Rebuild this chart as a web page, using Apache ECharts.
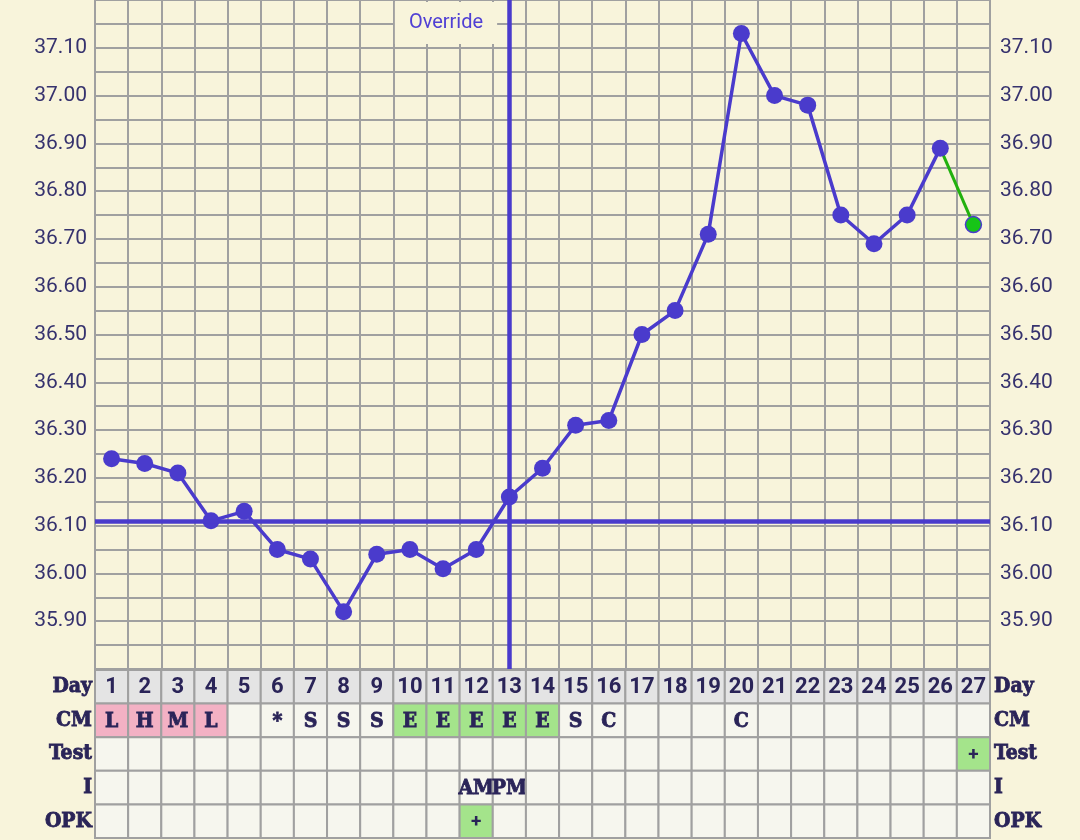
<!DOCTYPE html>
<html>
<head>
<meta charset="utf-8">
<script src="https://cdn.jsdelivr.net/npm/echarts@6/dist/echarts.min.js"></script>
<style>
html,body{margin:0;padding:0;background:#f8f4db;}
#chart{width:1080px;height:840px;}
</style>
</head>
<body>
<div id="chart"></div>
<script>
// ---- data ----
const days = ['1','2','3','4','5','6','7','8','9','10','11','12','13','14','15','16','17','18','19','20','21','22','23','24','25','26','27'];
const temps = [36.24,36.23,36.21,36.11,36.13,36.05,36.03,35.92,36.04,36.05,36.01,36.05,36.16,36.22,36.31,36.32,36.50,36.55,36.71,37.13,37.00,36.98,36.75,36.69,36.75,36.89,36.73];
const coverline = 36.11;
const overrideDay = '13';
const overrideLabel = 'Override';
const rowNames = ['Day','CM','Test','I','OPK'];
const cmValues = ['L','H','M','L','','*','S','S','S','E','E','E','E','E','S','C','','','','C','','','','','','',''];
const testValues = ['','','','','','','','','','','','','','','','','','','','','','','','','','','+'];
const intercourseValues = ['','','','','','','','','','','','AM','PM','','','','','','','','','','','','','',''];
const opkValues = ['','','','','','','','','','','','+','','','','','','','','','','','','','','',''];
const yTickLabels = ['35.90','36.00','36.10','36.20','36.30','36.40','36.50','36.60','36.70','36.80','36.90','37.00','37.10'];

// ---- styling ----
const BG = '#f8f4db';
const PURPLE = '#4a3bcc';
const GREEN_LINE = '#22b10e';
const TEXT = '#2a2458';
const AXTEXT = '#36326e';
const GRIDC = '#a0a0a0';
const PINK = '#f3b1c4';
const GREEN = '#a4e48b';
const DAYBG = '#e4e4e4';
const CELLBG = '#f6f6ee';
const SLAB = '"DejaVu Serif Condensed", "DejaVu Serif", serif';
const pinkSet = {L:1,H:1,M:1};

const rows = [days, cmValues, testValues, intercourseValues, opkValues];
const cells = [];
rows.forEach((vals, r) => {
  vals.forEach((t, c) => {
    let fill = r === 0 ? DAYBG : CELLBG;
    if (r === 1 && pinkSet[t]) fill = PINK;
    if (r === 1 && t === 'E') fill = GREEN;
    if ((r === 2 || r === 4) && t === '+') fill = GREEN;
    const slab = !(r === 0 || t === '+');
    const font = r === 0 ? 'bold 22px Roboto' : (t === '+' ? 'bold 19px Roboto' : 'bold 21px ' + SLAB);
    cells.push({value: [c, r], text: t, fill: fill, font: font, heavy: slab});
  });
});

const chart = echarts.init(document.getElementById('chart'), null, {renderer: 'canvas'});

function yLabel(v) {
  const s = v.toFixed(2);
  return yTickLabels.indexOf(s) >= 0 ? s : '';
}

const slabLabel = {color: TEXT, fontSize: 21, fontWeight: 'bold', fontFamily: SLAB,
                   textBorderColor: TEXT, textBorderWidth: 0.8};

const option = {
  animation: false,
  backgroundColor: BG,
  grid: [
    {left: 95, right: 90, top: -3, height: 672, containLabel: false},
    {left: 95, right: 90, top: 670, height: 168, containLabel: false}
  ],
  xAxis: [
    {type: 'category', gridIndex: 0, data: days, boundaryGap: true,
     axisLabel: {show: false}, axisTick: {show: false},
     axisLine: {show: true, lineStyle: {color: GRIDC, width: 2}},
     splitLine: {show: true, interval: 0, lineStyle: {color: GRIDC, width: 2}}},
    {type: 'category', gridIndex: 1, data: days, boundaryGap: true, show: false}
  ],
  yAxis: [
    {type: 'value', gridIndex: 0, min: 35.8, max: 37.2, interval: 0.05, position: 'left',
     axisLine: {show: false}, axisTick: {show: false},
     axisLabel: {formatter: yLabel, color: AXTEXT, fontSize: 21, fontFamily: 'Roboto', margin: 8},
     splitLine: {show: true, lineStyle: {color: GRIDC, width: 2}}},
    {type: 'value', gridIndex: 0, min: 35.8, max: 37.2, interval: 0.05, position: 'right',
     axisLine: {show: true, lineStyle: {color: GRIDC, width: 2}}, axisTick: {show: false},
     axisLabel: {formatter: yLabel, color: AXTEXT, fontSize: 21, fontFamily: 'Roboto', margin: 10},
     splitLine: {show: false}},
    {type: 'category', gridIndex: 1, data: rowNames, inverse: true, position: 'left',
     axisLine: {show: false}, axisTick: {show: false},
     axisLabel: Object.assign({margin: 3}, slabLabel)},
    {type: 'category', gridIndex: 1, data: rowNames, inverse: true, position: 'right',
     axisLine: {show: false}, axisTick: {show: false},
     axisLabel: Object.assign({margin: 4}, slabLabel)}
  ],
  series: [
    {
      type: 'line', xAxisIndex: 0, yAxisIndex: 0, z: 2,
      data: temps.map((v, i) => i >= temps.length - 2 ? (i === temps.length - 2 ? {value: v, symbolSize: 0} : v) : null),
      symbol: 'circle', symbolSize: 16,
      lineStyle: {color: GREEN_LINE, width: 3},
      itemStyle: {color: '#17c417', borderColor: PURPLE, borderWidth: 1.5}
    },
    {
      type: 'line', xAxisIndex: 0, yAxisIndex: 0, z: 3,
      data: temps.slice(0, temps.length - 1),
      symbol: 'circle', symbolSize: 17,
      lineStyle: {color: PURPLE, width: 3.5},
      itemStyle: {color: PURPLE},
      markLine: {
        silent: true, symbol: ['none', 'none'], label: {show: false},
        lineStyle: {color: PURPLE, width: 4.5, type: 'solid'},
        data: [{yAxis: coverline}, {xAxis: overrideDay}]
      }
    },
    {
      type: 'custom', xAxisIndex: 1, yAxisIndex: 2, z: 2,
      data: cells,
      renderItem: function (params, api) {
        const cell = cells[params.dataIndex];
        const p = api.coord([api.value(0), api.value(1)]);
        const s = api.size([1, 1]);
        const st = {text: cell.text, align: 'center', verticalAlign: 'middle', font: cell.font, fill: TEXT};
        if (cell.heavy) { st.stroke = TEXT; st.lineWidth = 0.8; }
        return {
          type: 'group',
          children: [
            {type: 'rect', shape: {x: p[0] - s[0] / 2, y: p[1] - s[1] / 2, width: s[0], height: s[1]},
             style: {fill: cell.fill, stroke: GRIDC, lineWidth: 2}},
            {type: 'text', x: p[0], y: p[1] + 1, style: st}
          ]
        };
      }
    }
  ],
  graphic: [
    {type: 'text', x: 446, y: 23, z: 100,
     style: {text: overrideLabel, align: 'center', verticalAlign: 'middle', font: '20px Roboto', fill: '#5040d4',
             backgroundColor: BG, padding: [11, 14]}}
  ]
};
chart.setOption(option);
</script>
</body>
</html>
